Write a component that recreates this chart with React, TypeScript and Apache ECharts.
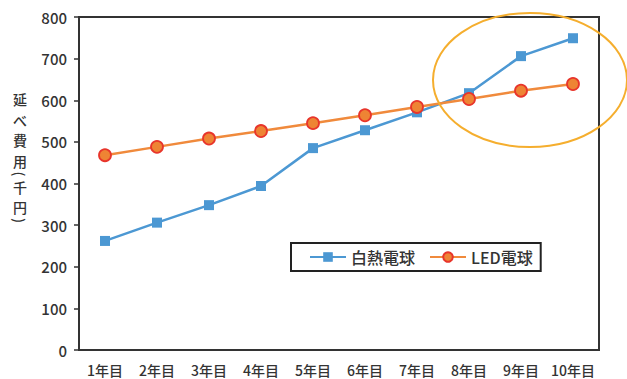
import React, { useEffect, useRef } from "react";
import * as echarts from "echarts";

// Cumulative cost over 10 years (thousand yen)
const years = ["1年目", "2年目", "3年目", "4年目", "5年目", "6年目", "7年目", "8年目", "9年目", "10年目"];
const incandescent = [262, 306, 348, 394, 485, 528, 571, 617, 706, 749];
const led = [468, 488, 508, 526, 545, 564, 584, 603, 623, 639];
const yTicks = { min: 0, max: 800, interval: 100 };
const seriesNames = ["白熱電球", "LED電球"];
const axisTitle = ["延", "べ", "費", "用", "(", "千", "円", ")"];

const FONT = '"Noto Sans CJK JP", "Noto Sans", sans-serif';

export default function App() {
  const ref = useRef<HTMLDivElement>(null);

  useEffect(() => {
    if (!ref.current) return;
    const chart = echarts.init(ref.current, undefined, { renderer: "svg" });

    // vertical axis title, one glyph per element; brackets are turned sideways
    const titleY = [99, 119.5, 140, 160.5, 174, 186.5, 207, 220.5];
    const titleEls = axisTitle.map((ch, i) => {
      const isParen = ch === "(" || ch === ")";
      return {
        type: "text",
        x: 20,
        y: titleY[i],
        rotation: isParen ? -Math.PI / 2 : 0,
        style: {
          text: ch,
          font: `500 14px ${FONT}`,
          fill: "#333",
          align: "center",
          verticalAlign: "middle",
        },
      };
    });

    chart.setOption({
      animation: false,
      backgroundColor: "#fff",
      textStyle: { fontFamily: FONT },
      grid: {
        left: 79,
        top: 17,
        width: 520,
        height: 333,
        show: true,
        borderColor: "#333",
        borderWidth: 2,
        backgroundColor: "transparent",
      },
      legend: {
        left: 291,
        top: 243,
        padding: [6, 8, 6, 18],
        itemGap: 14,
        itemWidth: 36,
        itemHeight: 12,
        borderColor: "#222",
        borderWidth: 2,
        backgroundColor: "#fff",
        textStyle: { fontSize: 16, color: "#333", fontFamily: FONT, fontWeight: 500 },
        data: seriesNames,
      },
      xAxis: {
        type: "category",
        data: years,
        boundaryGap: true,
        axisLine: { lineStyle: { color: "#333", width: 2 } },
        axisTick: { show: false },
        axisLabel: {
          interval: 0,
          fontSize: 14,
          color: "#333",
          margin: 13,
          fontFamily: FONT,
          fontWeight: 500,
        },
        splitLine: { show: false },
      },
      yAxis: {
        type: "value",
        min: yTicks.min,
        max: yTicks.max,
        interval: yTicks.interval,
        axisLine: { show: true, lineStyle: { color: "#333", width: 2 } },
        axisTick: { show: true, length: 5, lineStyle: { color: "#333", width: 1.5 } },
        axisLabel: { fontSize: 15, color: "#333", margin: 12, fontFamily: FONT, fontWeight: 500 },
        splitLine: { show: false },
      },
      series: [
        {
          name: seriesNames[0],
          type: "line",
          data: incandescent,
          symbol: "rect",
          symbolSize: 10,
          lineStyle: { color: "#4C98D3", width: 2.5 },
          itemStyle: { color: "#4C98D3" },
          z: 3,
        },
        {
          name: seriesNames[1],
          type: "line",
          data: led,
          symbol: "circle",
          symbolSize: 12,
          lineStyle: { color: "#F08A3C", width: 2.5 },
          itemStyle: { color: "#EE8434", borderColor: "#E8352B", borderWidth: 1.8 },
          z: 4,
        },
      ],
      graphic: [
        ...titleEls,
        {
          type: "ellipse",
          z: 100,
          shape: { cx: 530, cy: 80, rx: 97, ry: 67 },
          style: { fill: "none", stroke: "#F5AE2E", lineWidth: 2 },
        },
      ],
    });

    return () => chart.dispose();
  }, []);

  return (
    <div
      ref={ref}
      style={{ position: "fixed", left: 0, top: 0, width: 627, height: 379 }}
    />
  );
}
